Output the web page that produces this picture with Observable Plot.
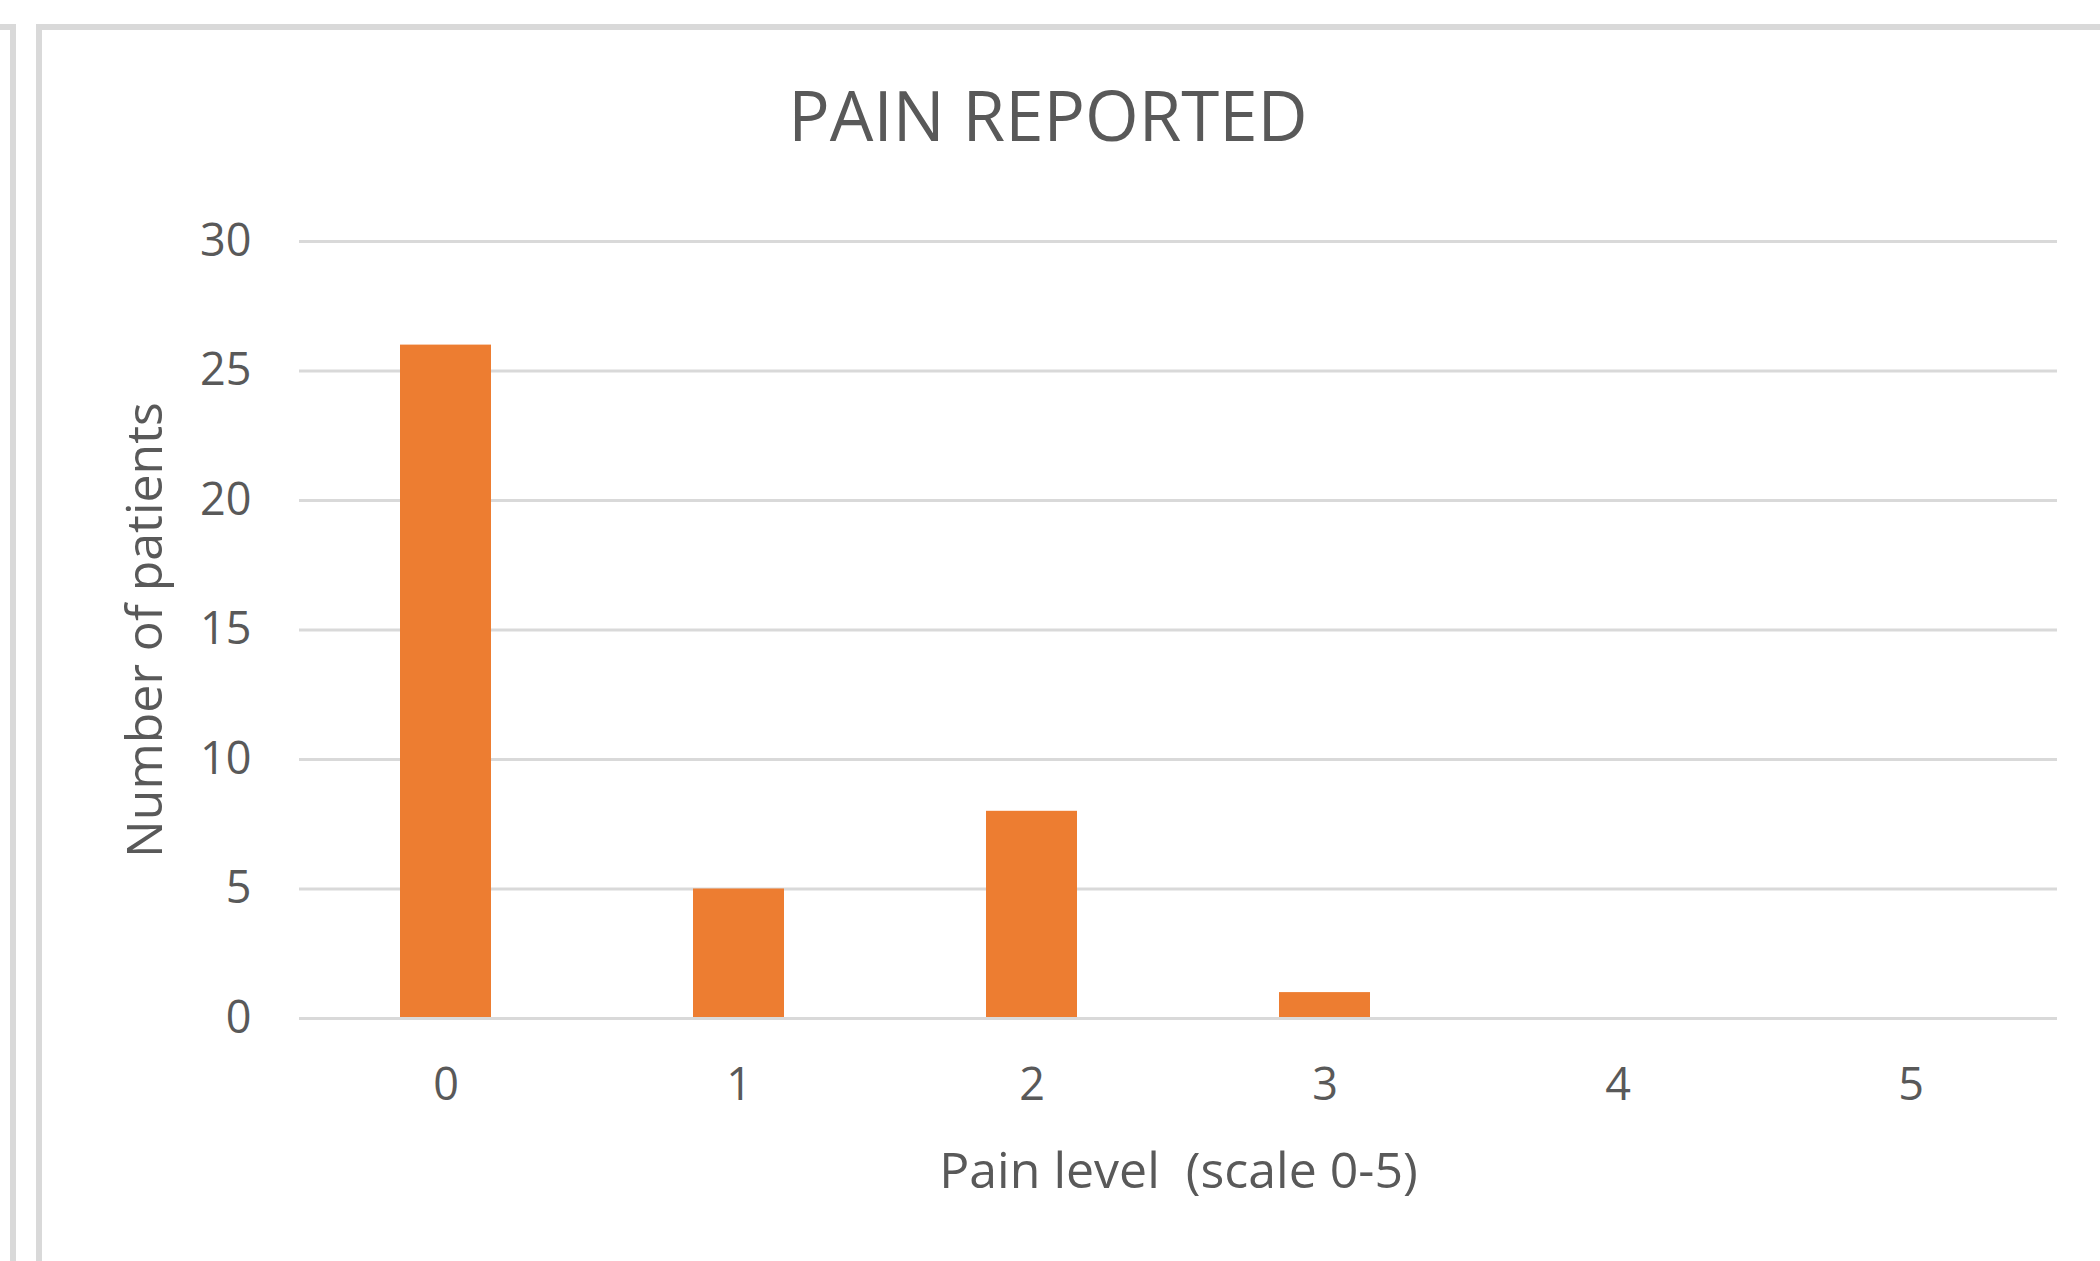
<!DOCTYPE html>
<html><head><meta charset="utf-8">
<script src="https://cdn.jsdelivr.net/npm/d3@7"></script>
<script src="https://cdn.jsdelivr.net/npm/@observablehq/plot@0.6"></script>
<style>
html,body{margin:0;padding:0;background:#fff;width:2100px;height:1261px;overflow:hidden}
#wrap{position:relative;width:2100px;height:1261px;font-family:"Open Sans",sans-serif;color:#595959}
.pleft{position:absolute;left:-20px;top:24px;width:30px;height:1300px;border-top:6px solid #d9d9d9;border-right:6px solid #d9d9d9}
.pmain{position:absolute;left:36px;top:24px;width:2100px;height:1300px;border-top:6px solid #d9d9d9;border-left:6px solid #d9d9d9}
#title{position:absolute;left:36px;width:2024px;top:79px;text-align:center;font-size:69px;line-height:70px;color:#595959;white-space:nowrap}
#chart{position:absolute;left:0;top:180px}
</style></head><body>
<div id="wrap">
  <div class="pleft"></div>
  <div class="pmain"></div>
  <div id="title">PAIN REPORTED</div>
  <div id="chart"></div>
</div>
<script>
const painLevels = ["0", "1", "2", "3", "4", "5"];
const patientCounts = [26, 5, 8, 1, 0, 0];
const yTicks = [0, 5, 10, 15, 20, 25, 30];
const xTitle = "Pain level  (scale 0-5)";
const yTitle = "Number of patients";

const data = painLevels.map((level, i) => ({level, count: patientCounts[i]}));

const chart = Plot.plot({
  width: 2100,
  height: 1081,
  marginTop: 61,
  marginBottom: 243,
  marginLeft: 299,
  marginRight: 43,
  style: {fontFamily: "'Open Sans', sans-serif", fontSize: "45px", color: "#595959", background: "transparent", overflow: "visible"},
  x: {domain: painLevels, paddingInner: 0.69, paddingOuter: 0.34},
  y: {domain: [0, 30]},
  marks: [
    Plot.gridY(yTicks, {stroke: "#d9d9d9", strokeOpacity: 1, strokeWidth: 3}),
    Plot.barY(data, {x: "level", y: "count", fill: "#ED7D31"}),
    Plot.ruleY([0], {stroke: "#d9d9d9", strokeWidth: 3}),
    Plot.axisX({tickSize: 0, tickPadding: 50, fontSize: 45, fill: "#595959", label: null}),
    Plot.axisY({ticks: yTicks, tickSize: 0, tickPadding: 48, fontSize: 45, fill: "#595959", label: null}),
    Plot.text([xTitle], {frameAnchor: "bottom", dy: 169, lineAnchor: "bottom", fontSize: 50, fill: "#595959"}),
    Plot.text([yTitle], {frameAnchor: "left", dx: -173, rotate: -90, textAnchor: "middle", lineAnchor: "top", fontSize: 50, fill: "#595959"})
  ]
});
document.getElementById("chart").appendChild(chart);
</script>
</body></html>
